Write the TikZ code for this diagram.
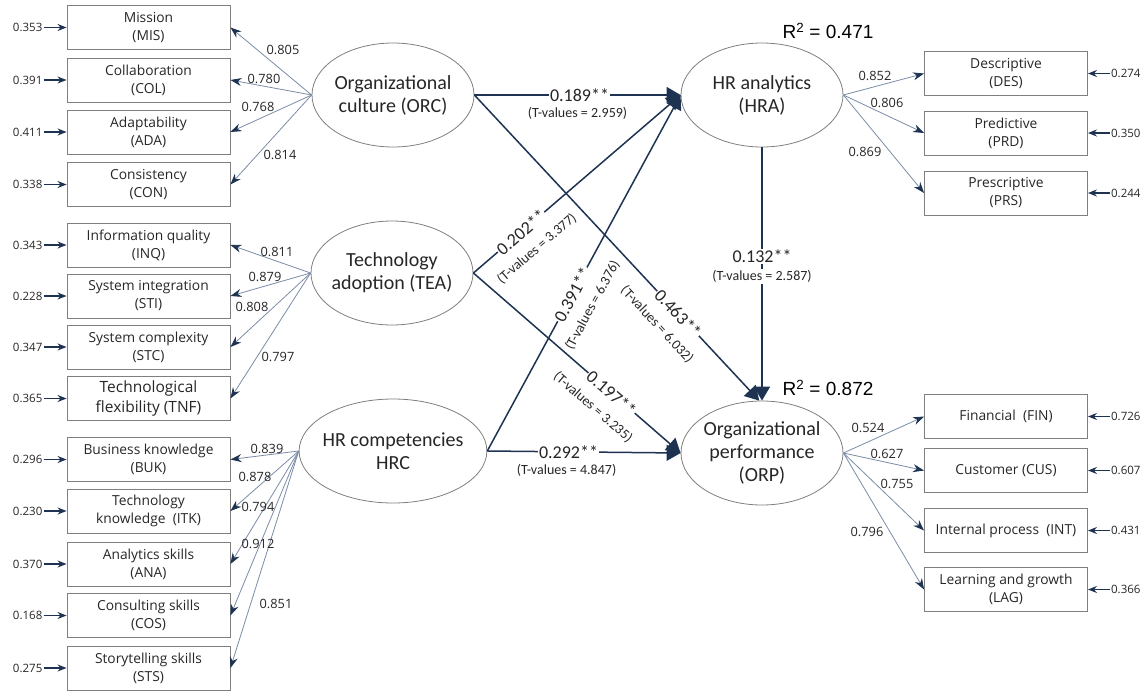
\documentclass[tikz,border=0pt]{standalone}
\usepackage{fontspec}
\setmainfont{Carlito}
\newfontfamily\boxfont{Open Sans}
\newfontfamily\rfont{Liberation Sans}
\usetikzlibrary{arrows.meta,shapes.geometric}
\definecolor{navy}{HTML}{1E3352}
\definecolor{loadc}{HTML}{7A8CA6}
\definecolor{bordc}{HTML}{7F7F7F}
\begin{document}
\begin{tikzpicture}[x=1pt,y=-1pt,
 ind/.style={draw=bordc,line width=0.9pt,minimum width=163pt,minimum height=44pt,inner sep=0pt,align=center,font=\boxfont\fontsize{13.8}{18}\selectfont,text=black!85},
 lat/.style={ellipse,draw=bordc,line width=0.8pt,minimum width=162pt,minimum height=104pt,inner xsep=-4pt,inner ysep=0pt,align=center,font=\fontsize{20}{23}\selectfont,text=black!85},
 ldl/.style={font=\boxfont\fontsize{12.8}{14}\selectfont,text=black!85,inner sep=1pt},
 errl/.style={font=\boxfont\fontsize{11.5}{13}\selectfont,text=black!85,inner sep=1pt},
 load/.style={draw=loadc,line width=0.8pt,-{Stealth[length=11pt,width=8pt,color=navy]}},
 errarr/.style={draw=navy,line width=1.3pt,-{Stealth[length=9pt,width=7pt]}},
 path/.style={draw=navy,line width=1.5pt,-{Triangle[length=14pt,width=16pt]}},
 coef/.style={font=\fontsize{18}{20}\selectfont,fill=white,inner sep=1pt,text=black!85},
 tval/.style={font=\fontsize{14}{16}\selectfont,inner sep=1pt,text=black!85},
 rsq/.style={font=\rfont\fontsize{19}{21}\selectfont,text=black}
]
\useasboundingbox (0,0) rectangle (1146,691);

% latent variables
\node[lat] (ORC) at (393,95) {Organizational\\culture (ORC)};
\node[lat] (TEA) at (392,273) {Technology\\adoption (TEA)};
\node[lat] (HRC) at (393,451) {HR competencies\\HRC};
\node[lat] (HRA) at (762,95) {HR analytics\\(HRA)};
\node[lat] (ORP) at (762,453) {Organizational\\performance\\(ORP)};

% left indicators
\node[ind] (MIS) at (148.5,27.5) {Mission\\(MIS)};
\node[ind] (COL) at (148.5,80) {Collaboration\\(COL)};
\node[ind] (ADA) at (148.5,132) {Adaptability\\(ADA)};
\node[ind] (CON) at (148.5,184.5) {Consistency\\(CON)};
\node[ind] (INQ) at (148.5,245) {Information quality\\(INQ)};
\node[ind] (STI) at (148.5,296) {System integration\\(STI)};
\node[ind] (STC) at (148.5,347) {System complexity\\(STC)};
\node[ind,font=\boxfont\fontsize{15.5}{19.5}\selectfont] (TNF) at (148.5,398.5) {Technological\\flexibility (TNF)};
\node[ind] (BUK) at (148.5,459.5) {Business knowledge\\(BUK)};
\node[ind] (ITK) at (148.5,511) {Technology\\knowledge\ \ (ITK)};
\node[ind] (ANA) at (148.5,564) {Analytics skills\\(ANA)};
\node[ind] (COS) at (148.5,615.5) {Consulting skills\\(COS)};
\node[ind] (STS) at (148.5,668) {Storytelling skills\\(STS)};

% right indicators
\node[ind] (DES) at (1006,73.5) {Descriptive\\(DES)};
\node[ind] (PRD) at (1006,133) {Predictive\\(PRD)};
\node[ind] (PRS) at (1006,193) {Prescriptive\\(PRS)};
\node[ind] (FIN) at (1006,416.5) {Financial\ \ (FIN)};
\node[ind] (CUS) at (1006,470.5) {Customer (CUS)};
\node[ind] (INT) at (1006,530.5) {Internal process\ \ (INT)};
\node[ind] (LAG) at (1006,589.5) {Learning and growth\\(LAG)};

% left error terms
\foreach \n/\v in {MIS/0.353,COL/0.391,ADA/0.411,CON/0.338,INQ/0.343,STI/0.228,STC/0.347,TNF/0.365,BUK/0.296,ITK/0.230,ANA/0.370,COS/0.168,STS/0.275}{
  \node[errl,anchor=east] (e\n) at ([xshift=-23pt]\n.west) {\v};
  \draw[errarr] (e\n.east) -- (\n.west);
}
% right error terms
\foreach \n/\v in {DES/0.274,PRD/0.350,PRS/0.244,FIN/0.726,CUS/0.607,INT/0.431,LAG/0.366}{
  \node[errl,anchor=west] (e\n) at ([xshift=22pt]\n.east) {\v};
  \draw[errarr] (e\n.west) -- (\n.east);
}

% loadings
\foreach \n in {MIS,COL,ADA,CON}{\draw[load] (ORC.west) -- (\n.east);}
\foreach \n in {INQ,STI,STC,TNF}{\draw[load] (TEA.west) -- (\n.east);}
\foreach \n in {BUK,ITK,ANA,COS,STS}{\draw[load] (HRC.west) -- (\n.east);}
\foreach \n in {DES,PRD,PRS}{\draw[load] (HRA.east) -- (\n.west);}
\foreach \n in {FIN,CUS,INT,LAG}{\draw[load] (ORP.east) -- (\n.west);}

\node[ldl] (lMIS) at (283,50) {0.805};
\node[ldl] (lCOL) at (264,79) {0.780};
\node[ldl] (lADA) at (258,107) {0.768};
\node[ldl] (lCON) at (280,155) {0.814};
\node[ldl] (lINQ) at (277,252) {0.811};
\node[ldl] (lSTI) at (265,277) {0.879};
\node[ldl] (lSTC) at (252,307) {0.808};
\node[ldl] (lTNF) at (278,357) {0.797};
\node[ldl] (lBUK) at (267,449) {0.839};
\node[ldl] (lITK) at (255,477) {0.878};
\node[ldl] (lANA) at (258,507) {0.794};
\node[ldl] (lCOS) at (258,544) {0.912};
\node[ldl] (lSTS) at (276,604) {0.851};
\node[ldl] (lDES) at (875,76) {0.852};
\node[ldl] (lPRD) at (887,103) {0.806};
\node[ldl] (lPRS) at (865,152) {0.869};
\node[ldl] (lFIN) at (868,428) {0.524};
\node[ldl] (lCUS) at (887,454) {0.627};
\node[ldl] (lINT) at (897,484) {0.755};
\node[ldl] (lLAG) at (867,532) {0.796};

% structural paths
\draw[path] (ORC.east) -- (HRA.west)
  node[coef,pos=0.51] (c1) {0.189**}
  node[tval,pos=0.5,below=11pt] (t1) {(T-values = 2.959)};
\draw[path] (TEA.east) -- (HRA.west)
  node[coef,pos=0.23,sloped] (c2) {0.202**}
  node[tval,pos=0.235,sloped,below=15pt] (t2) {(T-values = 3.377)};
\draw[path] (HRC.east) -- (HRA.west)
  node[coef,pos=0.44,sloped] (c3) {0.391**}
  node[tval,pos=0.44,sloped,below=15pt] (t3) {(T-values = 6.376)};
\draw[path] (ORC.east) -- (ORP.93)
  node[coef,pos=0.715,sloped] (c4) {0.463**}
  node[tval,pos=0.7,sloped,below=15pt] (t4) {(T-values = 6.032)};
\draw[path] (TEA.east) -- (ORP.west)
  node[coef,pos=0.667,sloped] (c5) {0.197**}
  node[tval,pos=0.65,sloped,below=15pt] (t5) {(T-values = 3.235)};
\draw[path] (HRC.east) -- (ORP.west)
  node[coef,pos=0.42] (c6) {0.292**}
  node[tval,pos=0.41,below=11pt] (t6) {(T-values = 4.847)};
\draw[path] (HRA.south) -- (ORP.north)
  node[coef,pos=0.43] (c7) {0.132**}
  node[tval,pos=0.51,fill=white] (t7) {(T-values = 2.587)};

\node[rsq] (r1) at (828,31) {R\textsuperscript{2} = 0.471};
\node[rsq] (r2) at (828,388) {R\textsuperscript{2} = 0.872};
\end{tikzpicture}
\end{document}
